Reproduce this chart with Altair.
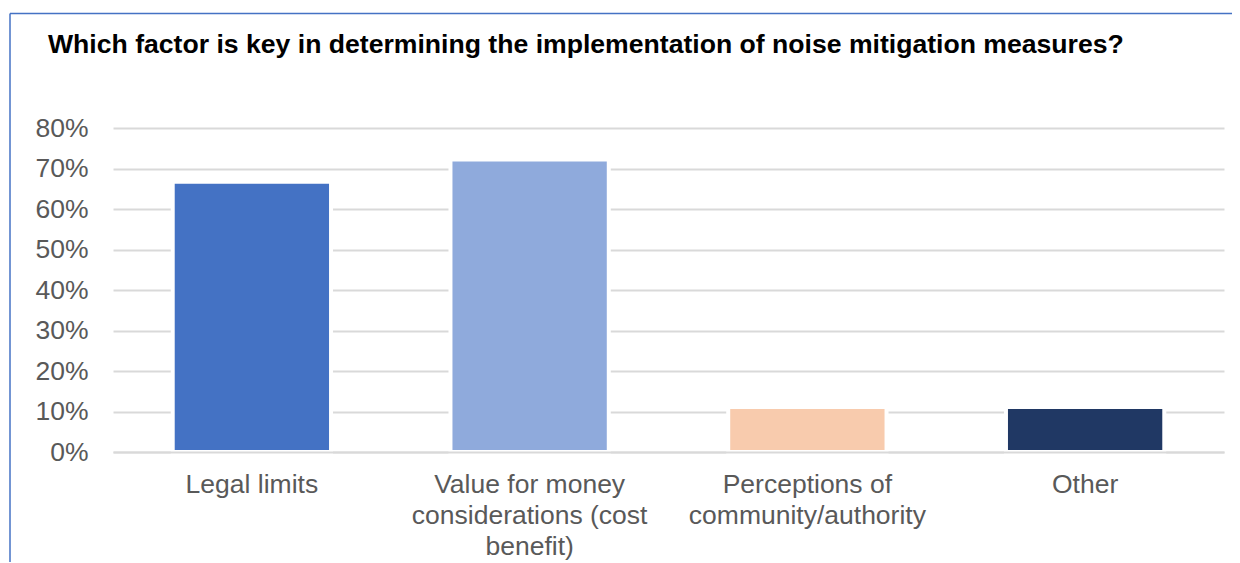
import altair as alt
import pandas as pd

categories = [
    "Legal limits",
    "Value for money considerations (cost benefit)",
    "Perceptions of community/authority",
    "Other",
]
label_lines = [
    ["Legal limits"],
    ["Value for money", "considerations (cost", "benefit)"],
    ["Perceptions of", "community/authority"],
    ["Other"],
]
values = [0.667, 0.722, 0.111, 0.111]
colors = ["#4472C4", "#8FAADC", "#F8CBAD", "#203864"]
y_ticks = [0, 0.1, 0.2, 0.3, 0.4, 0.5, 0.6, 0.7, 0.8]
title_text = "Which factor is key in determining the implementation of noise mitigation measures?"

df = pd.DataFrame({"category": categories, "value": values})

expr = ""
for c, lines in zip(categories, label_lines):
    arr = "[" + ",".join("'" + l + "'" for l in lines) + "]"
    expr += f"datum.label == '{c}' ? {arr} : "
expr += "datum.label"

FONT = "Liberation Sans"

bars = alt.Chart(df).mark_bar(stroke="white", strokeWidth=4).encode(
    x=alt.X(
        "category:N",
        sort=categories,
        scale=alt.Scale(paddingInner=0.43, paddingOuter=0.215),
        axis=alt.Axis(
            title=None,
            labelAngle=0,
            labelExpr=expr,
            labelFont=FONT,
            labelFontSize=26.5,
            labelColor="#595959",
            labelLineHeight=31,
            labelPadding=19,
            ticks=False,
            domain=True,
            domainColor="#d9d9d9",
            domainWidth=2,
            grid=False,
            zindex=1,
            labelLimit=400,
        ),
    ),
    y=alt.Y(
        "value:Q",
        scale=alt.Scale(domain=[0, 0.8], nice=False),
        axis=alt.Axis(
            title=None,
            values=y_ticks,
            format=".0%",
            labelFont=FONT,
            labelFontSize=26.5,
            labelColor="#595959",
            labelPadding=25,
            ticks=False,
            domain=False,
            grid=True,
            gridColor="#d9d9d9",
            gridWidth=2,
        ),
    ),
    color=alt.Color(
        "category:N",
        sort=categories,
        scale=alt.Scale(domain=categories, range=colors),
        legend=None,
    ),
)

frame_top = alt.Chart(alt.Data(values=[{}])).mark_rule(
    color="#4472C4", strokeWidth=1.5, clip=False
).encode(x=alt.value(-103), x2=alt.value(1140), y=alt.value(-114.5))

frame_left = alt.Chart(alt.Data(values=[{}])).mark_rule(
    color="#4472C4", strokeWidth=1.5, clip=False
).encode(x=alt.value(-103), y=alt.value(-114.5), y2=alt.value(450))

chart = alt.layer(bars, frame_top, frame_left).properties(
    width=1111,
    height=324,
    background="white",
    title=alt.TitleParams(
        text=title_text,
        anchor="start",
        frame="group",
        font=FONT,
        fontSize=26.6,
        fontWeight="bold",
        color="#000000",
        baseline="alphabetic",
        dx=-65,
        offset=-67,
    ),
    autosize=alt.AutoSizeParams(type="none"),
    padding={"left": 105, "top": 120, "right": 8, "bottom": 110},
).configure_view(stroke="transparent", strokeWidth=0)

chart.save("out.html", embed_options={"renderer": "svg", "actions": False})
